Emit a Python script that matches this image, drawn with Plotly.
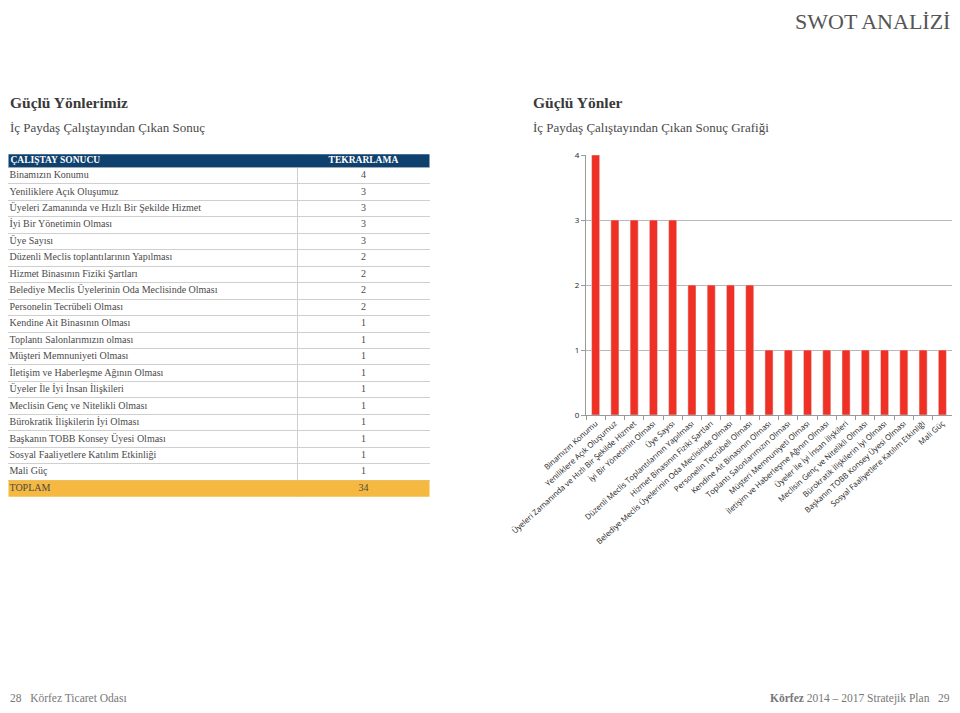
import plotly.graph_objects as go

# Tablo verileri
sonuclar = ['Binamızın Konumu', 'Yeniliklere Açık Oluşumuz',
            'Üyeleri Zamanında ve Hızlı Bir Şekilde Hizmet', 'İyi Bir Yönetimin Olması',
            'Üye Sayısı', 'Düzenli Meclis toplantılarının Yapılması',
            'Hizmet Binasının Fiziki Şartları', 'Belediye Meclis Üyelerinin Oda Meclisinde Olması',
            'Personelin Tecrübeli Olması', 'Kendine Ait Binasının Olması',
            'Toplantı Salonlarımızın olması', 'Müşteri Memnuniyeti Olması',
            'İletişim ve Haberleşme Ağının Olması', 'Üyeler İle İyi İnsan İlişkileri',
            'Meclisin Genç ve Nitelikli Olması', 'Bürokratik İlişkilerin İyi Olması',
            'Başkanın TOBB Konsey Üyesi Olması', 'Sosyal Faaliyetlere Katılım Etkinliği',
            'Mali Güç']
tekrar = [4, 3, 3, 3, 3, 2, 2, 2, 2, 1, 1, 1, 1, 1, 1, 1, 1, 1, 1]
basliklar = ['ÇALIŞTAY SONUCU', 'TEKRARLAMA']

# Grafik eksen etiketleri
grafik_etiket = ['Binamızın Konumu', 'Yeniliklere Açık Oluşumuz',
                 'Üyeleri Zamanında ve Hızlı Bir Şekilde Hizmet', 'İyi Bir Yönetimin Olması',
                 'Üye Sayısı', 'Düzenli Meclis Toplantılarının Yapılması',
                 'Hizmet Binasının Fiziki Şartları', 'Belediye Meclis Üyelerinin Oda Meclisinde Olması',
                 'Personelin Tecrübeli Olması', 'Kendine Ait Binasının Olması',
                 'Toplantı Salonlarımızın Olması', 'Müşteri Memnuniyeti Olması',
                 'İletişim ve Haberleşme Ağının Olması', 'Üyeler İle İyi İnsan İlişkileri',
                 'Meclisin Genç ve Nitelikli Olması', 'Bürokratik İlişkilerin İyi Olması',
                 'Başkanın TOBB Konsey Üyesi Olması', 'Sosyal Faaliyetlere Katılım Etkinliği',
                 'Mali Güç']

# sayfa 8px kenar boşluğu ile açılıyor (kaydırma çubuğu çıkmasın)
OFS = 8
W, H = 960 - 2 * OFS, 713 - 2 * OFS
SERIF = 'Liberation Serif'
GRI = '#4a4a4a'
LACI = '#0f416f'
TURUNCU = '#f5b840'

def px(x):
    return min(1, max(0, (x - OFS) / W))

def py(y):
    return min(1, max(0, 1 - (y - OFS) / H))

# tablo ölçüleri (piksel): genişlik 427, 1. sütun 293, başlık satırı 0.79 satır
TG, S1, BH = 427, 293, 0.79
n = len(sonuclar) + 1              # gövde satırları + TOPLAM
satir_y = [i + 0.5 for i in range(n)]

fig = go.Figure()

# satır zeminleri: başlık ve toplam
fig.add_trace(go.Bar(orientation='h', y=[-BH / 2, n - 0.5], x=[TG, TG], base=[0, 0],
                     width=[BH, 1], marker=dict(color=[LACI, TURUNCU], line_width=0),
                     xaxis='x2', yaxis='y2', showlegend=False, hoverinfo='skip'))

# başlık metinleri
fig.add_trace(go.Scatter(x=[2, (S1 + TG) / 2], y=[-BH / 2, -BH / 2], mode='text',
                         text=['<b>' + b + '</b>' for b in basliklar],
                         textposition=['middle right', 'middle center'],
                         textfont=dict(family=SERIF, size=9.5, color='white'),
                         xaxis='x2', yaxis='y2', showlegend=False, cliponaxis=False))

# gövde metinleri
fig.add_trace(go.Scatter(x=[1] * n, y=satir_y, mode='text',
                         text=sonuclar + ['TOPLAM'], textposition='middle right',
                         textfont=dict(family=SERIF, size=10, color=GRI),
                         xaxis='x2', yaxis='y2', showlegend=False, cliponaxis=False))
fig.add_trace(go.Scatter(x=[(S1 + TG) / 2] * n, y=satir_y, mode='text',
                         text=[str(v) for v in tekrar] + [str(sum(tekrar))],
                         textposition='middle center',
                         textfont=dict(family=SERIF, size=10, color=GRI),
                         xaxis='x2', yaxis='y2', showlegend=False, cliponaxis=False))

# Çubuk grafik
fig.add_trace(go.Bar(x=grafik_etiket, y=tekrar, marker_color='#ee3124',
                     width=0.42, showlegend=False))

fig.update_layout(
    width=W, height=H, autosize=False,
    margin=dict(l=0, r=0, t=0, b=0, pad=0),
    paper_bgcolor='white', plot_bgcolor='white',
    xaxis=dict(domain=[px(586), px(959)], anchor='y', tickangle=-42, automargin=False,
               tickfont=dict(family='Open Sans', size=7.8, color='#222'),
               showline=True, linecolor='#9a9a9a', showgrid=False,
               ticks='outside', tickson='boundaries', ticklen=4, tickcolor='#9a9a9a'),
    yaxis=dict(domain=[py(415), py(155)], anchor='x', range=[0, 4], automargin=False,
               dtick=1, showgrid=True, gridcolor='#b8b8b8', gridwidth=1,
               showline=True, linecolor='#9a9a9a', ticks='outside', ticklen=4,
               tickcolor='#9a9a9a', zeroline=False,
               tickfont=dict(family='Open Sans', size=8, color='#222')),
    xaxis2=dict(domain=[px(3), px(430)], anchor='y2', range=[-0.5, TG + 0.5],
                tickvals=[0, S1, TG], showticklabels=False, showgrid=True,
                gridcolor='#cfcfcf', zeroline=False, showline=False, automargin=False,
                fixedrange=True),
    yaxis2=dict(domain=[py(497), py(154)], anchor='x2', range=[n + 0.02, -BH - 0.02],
                tickvals=list(range(n + 1)), showticklabels=False, showgrid=True,
                gridcolor='#cfcfcf', zeroline=False, showline=False, automargin=False,
                fixedrange=True),
)

def yazi(x, y, metin, boyut, renk=GRI, hiza='left', aile=SERIF):
    fig.add_annotation(x=px(x), y=py(y), xref='paper', yref='paper',
                       text=metin, showarrow=False, xanchor=hiza, yanchor='middle',
                       font=dict(family=aile, size=boyut, color=renk))

yazi(953, 21, 'SWOT ANALİZİ', 22, '#555', 'right')
yazi(4, 102, '<b>Güçlü Yönlerimiz</b>', 15.5, '#3a3a3a')
yazi(4, 127, 'İç Paydaş Çalıştayından Çıkan Sonuç', 13)
yazi(531, 102, '<b>Güçlü Yönler</b>', 15.5, '#3a3a3a')
yazi(531, 127, 'İç Paydaş Çalıştayından Çıkan Sonuç Grafiği', 13)
yazi(4, 698, '28   Körfez Ticaret Odası', 11.5, '#777')
yazi(958, 698, '<b>Körfez</b> 2014 – 2017 Stratejik Plan   29', 11.5, '#777', 'right')

fig.write_html('out.html')
